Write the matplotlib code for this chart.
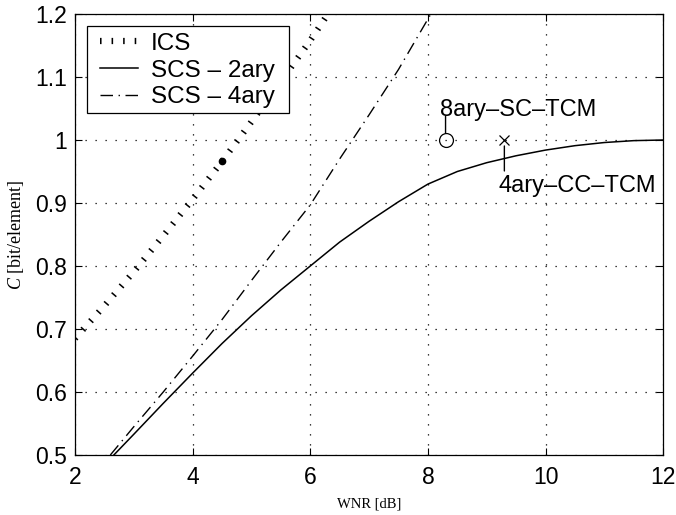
import matplotlib
matplotlib.use("Agg")
import matplotlib.pyplot as plt
from matplotlib.ticker import FixedLocator, FixedFormatter
from matplotlib.patches import Rectangle
from matplotlib.legend_handler import HandlerLine2D

# ---- data ----
ics_x = [2.0, 2.5, 3.0, 3.5, 4.0, 4.5, 5.0, 5.5, 6.0, 6.3]
ics_y = [0.685, 0.737, 0.791, 0.848, 0.906, 0.966, 1.029, 1.093, 1.158, 1.2]

scs2_x = [2.66, 3.0, 3.5, 4.0, 4.5, 5.0, 5.5, 6.0, 6.5, 7.0, 7.5, 8.0, 8.5, 9.0, 9.5, 10.0, 10.5, 11.0, 11.5, 12.0]
scs2_y = [0.5, 0.533, 0.582, 0.630, 0.677, 0.721, 0.762, 0.800, 0.838, 0.871, 0.902, 0.930, 0.950, 0.964, 0.975, 0.984, 0.991, 0.996, 0.999, 1.0]

scs4_x = [2.6, 3.0, 3.5, 4.0, 4.5, 5.0, 5.5, 6.0, 6.5, 7.0, 7.5, 8.05]
scs4_y = [0.5, 0.545, 0.600, 0.657, 0.715, 0.777, 0.838, 0.897, 0.970, 1.040, 1.112, 1.2]

dot_point = (4.5, 0.966)
sc_tcm = (8.3, 1.0)
cc_tcm = (9.3, 1.0)

x_ticks = [2, 4, 6, 8, 10, 12]
x_ticklabels = ["2", "4", "6", "8", "10", "12"]
y_ticks = [0.5, 0.6, 0.7, 0.8, 0.9, 1.0, 1.1, 1.2]
y_ticklabels = ["0.5", "0.6", "0.7", "0.8", "0.9", "1", "1.1", "1.2"]

legend_labels = ["ICS", "SCS \u2013 2ary", "SCS \u2013 4ary"]

# ---- figure ----
plt.rcParams['font.family'] = ['Liberation Sans', 'DejaVu Sans']
plt.rcParams['mathtext.fontset'] = 'custom'
plt.rcParams['mathtext.it'] = 'Liberation Serif:italic'
plt.rcParams['mathtext.rm'] = 'Liberation Serif'
fig = plt.figure(figsize=(6.76, 5.15), dpi=100)
ax = fig.add_axes([0.111, 0.1165, 0.870, 0.8563])

ics_line, = ax.plot(ics_x, ics_y, color='black', lw=4.5,
                    linestyle=(0, (0.25, 1.6)), dash_capstyle='butt',
                    label=legend_labels[0])
scs2_line, = ax.plot(scs2_x, scs2_y, color='black', lw=1.1,
                     label=legend_labels[1])
scs4_line, = ax.plot(scs4_x, scs4_y, color='black', lw=1.0,
                     linestyle=(0, (9, 4, 1, 4)), label=legend_labels[2])

ax.plot([dot_point[0]], [dot_point[1]], 'o', color='black', ms=4.5)
ax.plot([sc_tcm[0]], [sc_tcm[1]], 'o', mfc='none', mec='black', ms=10, mew=0.9)
ax.plot([cc_tcm[0]], [cc_tcm[1]], 'x', color='black', ms=6.5, mew=0.9)

# leader lines and labels
ax.annotate('', xy=sc_tcm, xytext=(0, 17.3), textcoords='offset points',
            arrowprops=dict(arrowstyle='-', color='black', lw=1.0,
                            shrinkA=0, shrinkB=5))
ax.annotate('8ary\u2013SC\u2013TCM', xy=sc_tcm, xytext=(-3.8, 17.6),
            textcoords='offset points', ha='left', va='baseline', fontsize=17)
ax.annotate('', xy=cc_tcm, xytext=(0, -22.3), textcoords='offset points',
            arrowprops=dict(arrowstyle='-', color='black', lw=1.0,
                            shrinkA=0, shrinkB=4.3))
ax.annotate('4ary\u2013CC\u2013TCM', xy=cc_tcm, xytext=(-4.3, -37.4),
            textcoords='offset points', ha='left', va='baseline', fontsize=17)

ax.set_xlim(2, 12)
ax.set_ylim(0.5, 1.2)
ax.xaxis.set_major_locator(FixedLocator(x_ticks))
ax.xaxis.set_major_formatter(FixedFormatter(x_ticklabels))
ax.yaxis.set_major_locator(FixedLocator(y_ticks))
ax.yaxis.set_major_formatter(FixedFormatter(y_ticklabels))
ax.tick_params(direction='in', top=True, right=True, length=5, width=0.8,
               labelsize=16.5, pad=6)
ax.tick_params(axis='x', pad=8)
ax.grid(True, color='black', linestyle=(0, (1, 7)), lw=0.9)
for s in ax.spines.values():
    s.set_linewidth(0.9)

ax.set_xlabel('WNR [dB]', family='Liberation Serif', fontsize=10.5, labelpad=6)
ax.set_ylabel(r'$C$ [bit/element]', family='Liberation Serif', fontsize=13,
              labelpad=6)

# legend box drawn as its own frame (MATLAB-style padding)
box = Rectangle((0.0204, 0.7755), 0.3436, 0.1973, transform=ax.transAxes,
                facecolor='white', edgecolor='black', lw=0.9, zorder=4.5)
ax.add_patch(box)
fs = 17.5
leg = ax.legend(handles=[ics_line, scs2_line, scs4_line], loc='upper left',
                bbox_to_anchor=(0.0204, 0.973), fontsize=fs, frameon=False,
                handlelength=1.81, handletextpad=0.53, labelspacing=0.2,
                borderpad=0.28, borderaxespad=0,
                handler_map={matplotlib.lines.Line2D: HandlerLine2D(xpad=0.25)})
leg.set_zorder(5)

fig.savefig('out.png', dpi=100)
